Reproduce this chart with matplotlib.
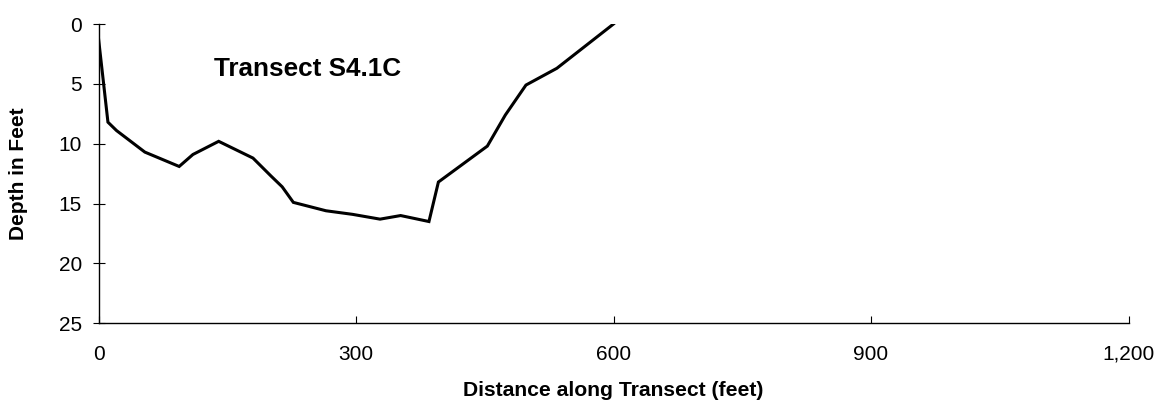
import matplotlib
matplotlib.use("Agg")
import matplotlib.pyplot as plt

plt.rcParams['font.family'] = ['Liberation Sans', 'DejaVu Sans']

# distance along transect (ft) and depth (ft)
distance = [0, 11, 21, 54, 94, 110, 140, 180, 201, 214, 227, 265, 296,
            328, 352, 385, 396, 453, 474, 498, 534, 600]
depth = [1.2, 8.2, 8.9, 10.7, 11.9, 10.9, 9.8, 11.2, 12.7, 13.6, 14.9, 15.6,
         15.9, 16.3, 16.0, 16.5, 13.2, 10.2, 7.6, 5.1, 3.7, 0.0]

x_ticks = [0, 300, 600, 900, 1200]
x_labels = ['0', '300', '600', '900', '1,200']
y_ticks = [0, 5, 10, 15, 20, 25]

fig = plt.figure(figsize=(11.61, 4.03), dpi=100)
ax = fig.add_axes([98.5 / 1161, 1 - 323.3 / 403, (1128.5 - 98.5) / 1161, (323.3 - 24) / 403])

ax.plot(distance, depth, color='black', lw=2.2, solid_joinstyle='miter')

ax.set_xlim(0, 1200)
ax.set_ylim(25, 0)
ax.set_xticks(x_ticks)
ax.set_xticklabels(x_labels)
ax.set_yticks(y_ticks)

for s in ['top', 'right']:
    ax.spines[s].set_visible(False)
for s in ['left', 'bottom']:
    ax.spines[s].set_linewidth(1.0)
    ax.spines[s].set_color('black')

ax.tick_params(axis='x', direction='in', length=5, width=0.8, pad=15.5, labelsize=15)
ax.tick_params(axis='y', direction='inout', length=8.6, width=0.8, pad=7.5, labelsize=15)

ax.set_xlabel('Distance along Transect (feet)', fontsize=15.2, fontweight='bold', labelpad=12.5)
ax.set_ylabel('Depth in Feet', fontsize=15, fontweight='bold', labelpad=22)

ax.text(244, 3.75, 'Transect S4.1C', fontsize=18.8, fontweight='bold',
        ha='center', va='center')

fig.savefig('out.png', dpi=100)
